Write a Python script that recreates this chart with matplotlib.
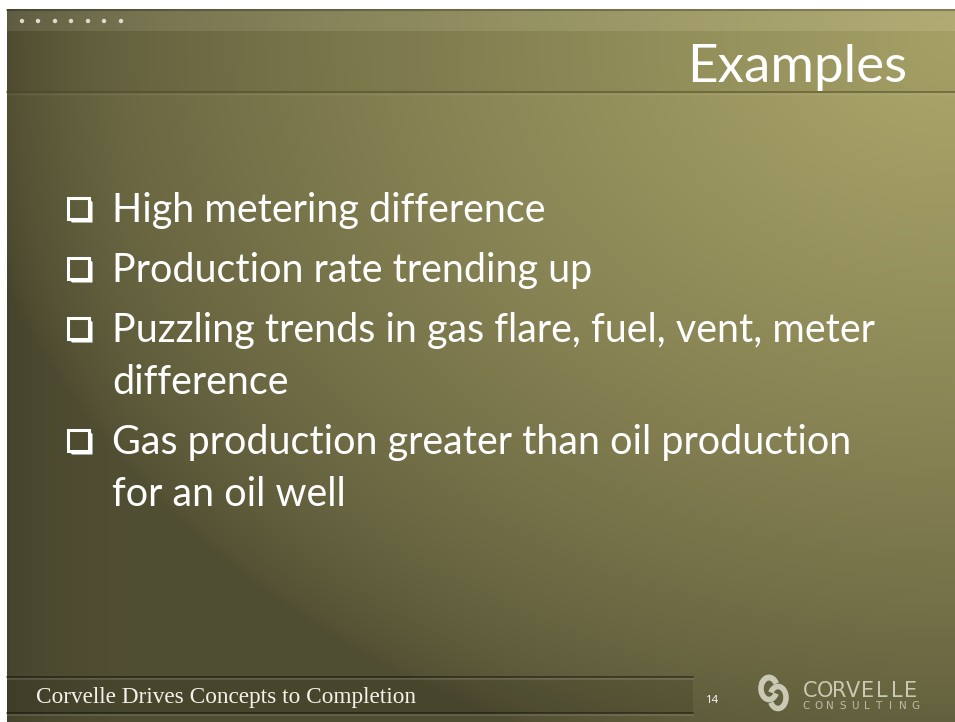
import numpy as np
import matplotlib
matplotlib.use("Agg")
import matplotlib.pyplot as plt
from matplotlib.patches import Rectangle, Polygon, Arc, Circle

W, H = 955, 722
title = "Examples"
bullets = [
    ["High metering difference"],
    ["Production rate trending up"],
    ["Puzzling trends in gas flare, fuel, vent, meter", "difference"],
    ["Gas production greater than oil production", "for an oil well"],
]
footer_text = "Corvelle Drives Concepts to Completion"
page_number = "14"
logo_top = "CORVELLE"
logo_bottom = "CONSULTING"

fig = plt.figure(figsize=(W / 100, H / 100), dpi=100)
ax = fig.add_axes([0, 0, 1, 1])
ax.set_xlim(0, W)
ax.set_ylim(H, 0)
ax.axis("off")

# white page, slide area
ax.add_patch(Rectangle((0, 0), W, H, color="white", zorder=0))
x0, y0 = 7, 9
yy, xx = np.mgrid[y0:H, x0:W]
d = np.sqrt(((xx - 955) / 1000.0) ** 2 + ((yy - 40) / 760.0) ** 2)
g = np.clip(1 - d, 0, 1) ** 0.7
left_shade = np.clip((xx - x0) / 120.0, 0, 1) ** 0.5
t = (0.12 + 0.10 * left_shade) + 0.78 * g
dark = np.array([55, 53, 35]) / 255.0
light = np.array([172, 167, 106]) / 255.0
img = dark[None, None, :] * (1 - t[..., None]) + light[None, None, :] * t[..., None]
ax.imshow(img, extent=(x0, W, H, y0), origin="upper", zorder=1, interpolation="bilinear", aspect="auto")

# top strip
ax.add_patch(Rectangle((x0, y0), W - x0, 22, color="white", alpha=0.07, zorder=2, lw=0))
ax.plot([x0, W], [y0 + 1, y0 + 1], color="black", alpha=0.25, lw=1.5, zorder=2)
ax.add_patch(Rectangle((x0, 31), W - x0, 61, color="black", alpha=0.04, zorder=2, lw=0))
ax.plot([x0, W], [92, 92], color="#4a4520", alpha=0.6, lw=1.2, zorder=2)
ax.plot([x0, W], [94, 94], color="white", alpha=0.08, lw=1.0, zorder=2)
for cx in [22, 38, 55, 71, 88, 104, 121]:
    ax.add_patch(Circle((cx, 21), 2.2, color="#dcdccc", zorder=3, lw=0))

fig.canvas.draw()
renderer = fig.canvas.get_renderer()


def put(x, y, s, width, family, color, ha="left", size=None, **kw):
    tx = ax.text(x, y, s, fontsize=10 if size is None else size, family=family,
                 color=color, va="baseline", ha=ha, zorder=5, **kw)
    if size is None:
        bb = tx.get_window_extent(renderer)
        tx.set_fontsize(10 * width / bb.width)
    return tx


def fit_size(s, width, family):
    tx = ax.text(0, 0, s, fontsize=10, family=family)
    bb = tx.get_window_extent(renderer)
    tx.remove()
    return 10 * width / bb.width


# title
put(907, 82, title, 219, "Lato", "white", ha="right")

# bullets
fam = "Lato"
bsize = fit_size(bullets[2][0], 764, fam)
baseline = 222
for lines in bullets:
    bx, by, s = 68, baseline - 24, 21
    ax.add_patch(Rectangle((bx, by), s, s, fill=False, ec="white", lw=2.2, zorder=5))
    ax.add_patch(Polygon([[bx + 1, by + s], [bx + s, by + s], [bx + s, by + 1],
                          [bx + s + 3.5, by + 4], [bx + s + 3.5, by + s + 3.5], [bx + 4, by + s + 3.5]],
                         closed=True, color="white", lw=0, zorder=5))
    for i, ln in enumerate(lines):
        put(112, baseline + i * 52, ln, None, fam, "white", size=bsize)
    baseline += 60 + (len(lines) - 1) * 52

# footer lines
ax.add_patch(Rectangle((x0, 679), 686, 34, color="black", alpha=0.10, lw=0, zorder=2))
for yl, c, a in [(677, "black", 0.45), (679, "white", 0.12), (713, "black", 0.45), (715, "white", 0.12)]:
    ax.plot([x0, 693], [yl, yl], color=c, alpha=a, lw=1.2, zorder=3)

put(36, 703, footer_text, 379, "Liberation Serif", "#f2f2ea")
put(706, 703, page_number, 13, "Open Sans", "white")

# logo
lc = "#c9c9b4"
ax.add_patch(Arc((769, 688.5), 16, 22, theta1=35, theta2=325, color=lc, lw=4.0, zorder=5))
ax.add_patch(Arc((778, 697.5), 16, 22, theta1=-145, theta2=145, color=lc, lw=4.0, zorder=5))
ax.add_patch(Arc((769, 688.5), 16, 22, theta1=215, theta2=325, color=lc, lw=4.0, zorder=6))

n = len(logo_top)
for i, ch in enumerate(logo_top):
    xc = 803 + (918 - 803) * (i + 0.5) / n
    ax.text(xc, 697, ch, fontsize=15, family="DejaVu Sans", color=lc, ha="center",
            va="baseline", zorder=5)
n2 = len(logo_bottom)
for i, ch in enumerate(logo_bottom):
    xc = 806 + (915 - 806) * i / (n2 - 1)
    ax.text(xc, 709, ch, fontsize=7.5, family="DejaVu Sans", color="#bdbda8", ha="center",
            va="baseline", zorder=5)

fig.savefig("out.png", dpi=100)
